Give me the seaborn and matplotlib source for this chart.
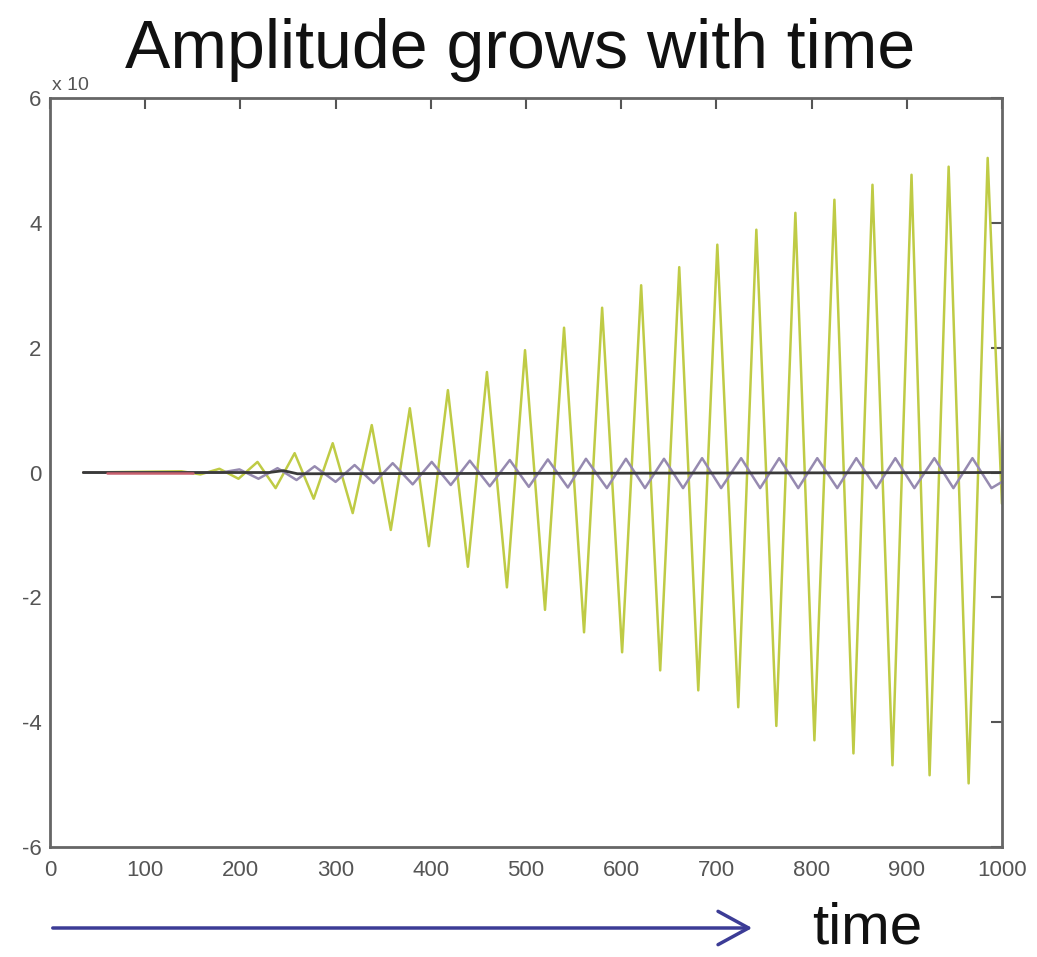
import matplotlib
matplotlib.use("Agg")
import matplotlib.pyplot as plt
from matplotlib.patches import FancyArrowPatch
import seaborn as sns
import pandas as pd

# values (y in units of the "x 10^n" multiplier)
yellow_t = [35, 138, 158, 178, 198, 218, 237, 257, 277, 297, 318, 338, 358, 378, 398,
            418, 439, 459, 480, 499, 520, 540, 561, 580, 601, 621, 641, 661, 681, 701,
            723, 742, 763, 783, 803, 824, 844, 864, 885, 905, 924, 944, 965, 985, 1000]
yellow_v = [0, 0.02, -0.03, 0.06, -0.1, 0.17, -0.25, 0.31, -0.42, 0.47, -0.65, 0.76, -0.92, 1.03, -1.18,
            1.32, -1.51, 1.61, -1.84, 1.96, -2.20, 2.32, -2.56, 2.64, -2.88, 3.00, -3.17, 3.29, -3.49, 3.65,
            -3.76, 3.89, -4.06, 4.16, -4.29, 4.37, -4.50, 4.61, -4.69, 4.77, -4.85, 4.90, -4.98, 5.04, -0.5]

purple_t = [35, 180, 199, 219, 239, 259, 278, 300, 320, 340, 360, 381,
            401, 421, 441, 462, 483, 503, 523, 544, 563, 585,
            605, 625, 645, 665, 685, 705, 726, 746, 766, 786,
            806, 827, 847, 868, 888, 908, 929, 949, 969, 989, 1000]
purple_v = [0, 0, 0.05, -0.1, 0.07, -0.12, 0.1, -0.15, 0.12, -0.17, 0.15, -0.19,
            0.17, -0.2, 0.19, -0.22, 0.2, -0.23, 0.21, -0.24, 0.22, -0.25,
            0.22, -0.25, 0.22, -0.25, 0.23, -0.25, 0.23, -0.25, 0.23, -0.25,
            0.23, -0.25, 0.23, -0.25, 0.23, -0.25, 0.23, -0.25, 0.23, -0.25, -0.15]

black_t = [35, 230, 245, 260, 1000]
black_v = [0.0, 0.0, 0.03, -0.02, 0.0]

red_t = [60, 150]
red_v = [0.0, 0.0]

x_ticks = [0, 100, 200, 300, 400, 500, 600, 700, 800, 900, 1000]
y_ticks = [-6, -4, -2, 0, 2, 4, 6]

colors = {"yellow": "#bfcb45", "purple": "#968ab0", "black": "#3a3a3a", "red": "#c8606e"}

sns.set_style("white")
plt.rcParams["font.family"] = ["Liberation Sans", "DejaVu Sans"]

fig = plt.figure(figsize=(10.37, 9.57), dpi=100)
ax = fig.add_axes([0.0482, 0.1149, 0.918, 0.7827])

df = pd.concat([
    pd.DataFrame({"t": yellow_t, "v": yellow_v, "s": "yellow"}),
    pd.DataFrame({"t": purple_t, "v": purple_v, "s": "purple"}),
    pd.DataFrame({"t": black_t, "v": black_v, "s": "black"}),
    pd.DataFrame({"t": red_t, "v": red_v, "s": "red"}),
])
for name, lw in [("yellow", 1.8), ("purple", 1.8), ("black", 2.0), ("red", 1.8)]:
    sub = df[df["s"] == name]
    sns.lineplot(data=sub, x="t", y="v", ax=ax, color=colors[name], lw=lw,
                 sort=False, estimator=None, legend=False,
                 solid_joinstyle="round", solid_capstyle="round")

ax.set_xlim(0, 1000)
ax.set_ylim(-6, 6)
ax.set_xticks(x_ticks)
ax.set_yticks(y_ticks)
ax.set_xlabel("")
ax.set_ylabel("")
ax.tick_params(direction="in", length=8, width=1.5, colors="#555555",
               top=True, right=True, labelcolor="#555555")
ax.set_xticklabels([str(v) for v in x_ticks], fontsize=16)
ax.set_yticklabels([str(v) for v in y_ticks], fontsize=16)
ax.tick_params(axis="x", pad=9)
ax.tick_params(axis="y", pad=6)
for sp in ax.spines.values():
    sp.set_color("#666666")
    sp.set_linewidth(2)

fig.text(520 / 1037, 1 - 68 / 957, "Amplitude grows with time", fontsize=49,
         ha="center", va="baseline", color="#111111")
fig.text(52 / 1037, 1 - 90 / 957, "x 10", fontsize=14, ha="left", va="baseline", color="#555555")

arrow = FancyArrowPatch((50 / 1037, 1 - 928 / 957), (755 / 1037, 1 - 928 / 957),
                        transform=fig.transFigure, arrowstyle="->,head_length=1.1,head_width=0.6",
                        mutation_scale=20, lw=2.5, color="#3c3c96")
fig.patches.append(arrow)
fig.text(867 / 1037, 1 - 944 / 957, "time", fontsize=42, ha="center", va="baseline", color="#111111")

fig.savefig("out.png", dpi=100)
